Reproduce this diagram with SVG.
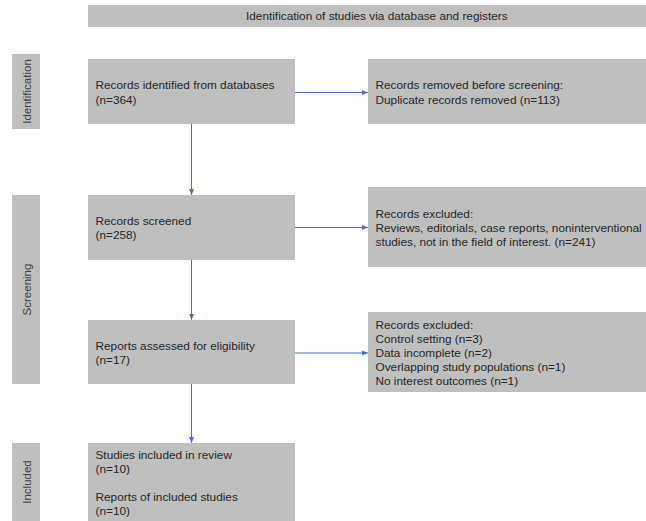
<svg xmlns="http://www.w3.org/2000/svg" width="646" height="521" viewBox="0 0 646 521">
<defs>
<style>
.box{fill:#bfbfbf;}
.t{font-family:"Liberation Sans",Arial,sans-serif;font-size:11.8px;fill:#262626;}
.lab{font-family:"Liberation Sans",Arial,sans-serif;font-size:11.5px;fill:#404040;text-anchor:middle;}
.c{stroke:#4472c4;stroke-width:1;fill:none;marker-end:url(#ah);}
</style>
<marker id="ah" viewBox="0 0 6 6" refX="6" refY="3" markerWidth="6" markerHeight="6" markerUnits="userSpaceOnUse" orient="auto">
<path d="M0,0.5 L6,3 L0,5.5 Z" fill="#4472c4"/>
</marker>
</defs>
<rect width="646" height="521" fill="#ffffff"/>

<g id="header">
<rect class="box" x="88" y="5" width="558" height="22"/>
<text class="t" x="246" y="20">Identification of studies via database and registers</text>
</g>

<g id="label-identification">
<rect class="box" x="12" y="54" width="28" height="75"/>
<text class="lab" transform="translate(30.5,91.5) rotate(-90)">Identification</text>
</g>
<g id="label-screening">
<rect class="box" x="12" y="195" width="28" height="189"/>
<text class="lab" transform="translate(30.5,289.5) rotate(-90)">Screening</text>
</g>
<g id="label-included">
<rect class="box" x="12" y="443" width="28" height="78"/>
<text class="lab" transform="translate(30.5,482) rotate(-90)">Included</text>
</g>

<g id="identified">
<rect class="box" x="88" y="59" width="207" height="65"/>
<text class="t" x="95.5" y="89">Records identified from databases</text>
<text class="t" x="95.5" y="103.5">(n=364)</text>
</g>
<g id="removed">
<rect class="box" x="368" y="59" width="278" height="65"/>
<text class="t" x="375.5" y="89">Records removed before screening:</text>
<text class="t" x="375.5" y="103.5">Duplicate records removed (n=113)</text>
</g>

<g id="screened">
<rect class="box" x="88" y="195" width="207" height="65"/>
<text class="t" x="95.5" y="225">Records screened</text>
<text class="t" x="95.5" y="239">(n=258)</text>
</g>
<g id="excluded1">
<rect class="box" x="368" y="187" width="278" height="80"/>
<text class="t" x="375.5" y="218">Records excluded:</text>
<text class="t" x="375.5" y="232.2">Reviews, editorials, case reports, noninterventional</text>
<text class="t" x="375.5" y="246.4">studies, not in the field of interest. (n=241)</text>
</g>

<g id="assessed">
<rect class="box" x="88" y="320" width="207" height="64"/>
<text class="t" x="95.5" y="350">Reports assessed for eligibility</text>
<text class="t" x="95.5" y="364">(n=17)</text>
</g>
<g id="excluded2">
<rect class="box" x="368" y="312" width="278" height="80"/>
<text class="t" x="375.5" y="329">Records excluded:</text>
<text class="t" x="375.5" y="343">Control setting (n=3)</text>
<text class="t" x="375.5" y="357">Data incomplete (n=2)</text>
<text class="t" x="375.5" y="371">Overlapping study populations (n=1)</text>
<text class="t" x="375.5" y="385">No interest outcomes (n=1)</text>
</g>

<g id="included">
<rect class="box" x="88" y="443" width="207" height="78"/>
<text class="t" x="95.5" y="458.5">Studies included in review</text>
<text class="t" x="95.5" y="472.5">(n=10)</text>
<text class="t" x="95.5" y="500.5">Reports of included studies</text>
<text class="t" x="95.5" y="514.5">(n=10)</text>
</g>

<g id="connectors">
<line class="c" x1="295" y1="92.5" x2="368" y2="92.5"/>
<line class="c" x1="191.5" y1="124" x2="191.5" y2="195"/>
<line class="c" x1="295" y1="227.5" x2="368" y2="227.5"/>
<line class="c" x1="191.5" y1="260" x2="191.5" y2="320"/>
<line class="c" x1="295" y1="353" x2="368" y2="353"/>
<line class="c" x1="191.5" y1="384" x2="191.5" y2="443"/>
</g>
</svg>
